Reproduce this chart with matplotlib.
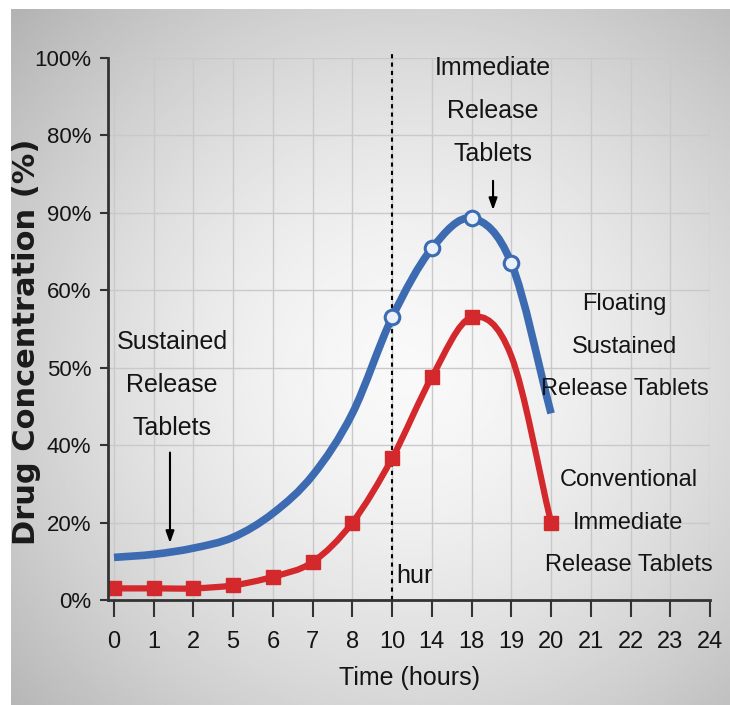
import numpy as np
import matplotlib
matplotlib.use("Agg")
import matplotlib.pyplot as plt
from matplotlib.path import Path
from matplotlib.patches import PathPatch

# hour labels sit on evenly spaced slots along the x axis
hours = ["0", "1", "2", "5", "6", "7", "8", "10", "14", "18", "19", "20",
         "21", "22", "23", "24"]
# y tick labels, one per grid step (bottom to top)
conc_labels = ["0%", "20%", "40%", "50%", "60%", "90%", "80%", "100%"]

# concentration curves, in grid steps, for the slots 0..11 (0 h .. 20 h)
floating_sr = [0.55, 0.59, 0.67, 0.81, 1.12, 1.61, 2.41, 3.65, 4.54, 4.93, 4.35, 2.41]
conventional_ir = [0.15, 0.15, 0.15, 0.19, 0.30, 0.49, 1.00, 1.83, 2.88, 3.65, 3.15, 1.00]
# which slots get a marker
floating_marks = [7, 8, 9, 10]
conventional_marks = [0, 1, 2, 3, 4, 5, 6, 7, 8, 9, 11]

BLUE = "#3c6bb2"
RED = "#d3282c"
INK = "#141414"

plt.rcParams["font.family"] = ["Liberation Sans", "DejaVu Sans"]


def smooth_path(xs, ys):
    """Cubic Bezier path through the points (Catmull-Rom tangents)."""
    p = np.column_stack([xs, ys]).astype(float)
    n = len(p)
    tang = np.zeros_like(p)
    tang[1:-1] = (p[2:] - p[:-2]) / 2
    tang[0] = p[1] - p[0]
    tang[-1] = p[-1] - p[-2]
    verts = [tuple(p[0])]
    codes = [Path.MOVETO]
    for i in range(n - 1):
        verts += [tuple(p[i] + tang[i] / 3), tuple(p[i + 1] - tang[i + 1] / 3), tuple(p[i + 1])]
        codes += [Path.CURVE4] * 3
    return Path(verts, codes)


fig = plt.figure(figsize=(7.3, 7.05), dpi=100, facecolor="white")

# soft grey vignette behind everything
bg = fig.add_axes([11 / 730, 0, 719 / 730, 696 / 705], zorder=0)
gx, gy = np.meshgrid(np.linspace(0, 1, 300), np.linspace(0, 1, 300))
r = np.sqrt(((gx - 0.55) / 0.62) ** 2 + ((gy - 0.52) / 0.62) ** 2)
shade = np.clip(0.975 - 0.2 * r ** 1.6, 0, 1)
bg.imshow(shade, cmap="gray", vmin=0, vmax=1, aspect="auto", extent=[0, 1, 0, 1])
bg.axis("off")

ax = fig.add_axes([108 / 730, 105 / 705, 602 / 730, 542 / 705], zorder=1)
ax.set_facecolor("none")
ax.set_xlim(-0.15, len(hours) - 1)
ax.set_ylim(0, len(conc_labels) - 1)

ax.set_xticks(range(len(hours)))
ax.set_xticklabels(hours)
ax.set_yticks(range(len(conc_labels)))
ax.set_yticklabels(conc_labels)
ax.tick_params(axis="x", direction="out", length=12, width=1.5, color="#333333",
               labelsize=17, pad=10, labelcolor=INK)
ax.tick_params(axis="y", direction="out", length=6, width=1.5, color="#333333",
               labelsize=16, pad=6, labelcolor=INK)
ax.grid(True, color="#c9c9c9", lw=1)
ax.set_axisbelow(True)
for side in ("top", "right"):
    ax.spines[side].set_visible(False)
for side in ("left", "bottom"):
    ax.spines[side].set_color("#333333")
    ax.spines[side].set_linewidth(2)
    ax.spines[side].set_zorder(5)

slots = np.arange(len(floating_sr))

# curves
ax.add_patch(PathPatch(smooth_path(slots, floating_sr), fill=False, edgecolor=BLUE,
                       lw=5.5, capstyle="butt", zorder=3))
ax.add_patch(PathPatch(smooth_path(slots, conventional_ir), fill=False, edgecolor=RED,
                       lw=4.5, capstyle="butt", zorder=3))

ax.plot(slots[floating_marks], np.array(floating_sr)[floating_marks], ls="none",
        marker="o", ms=10.5, mfc="#eaf1fb", mec=BLUE, mew=2.2, zorder=4)
ax.plot(slots[conventional_marks], np.array(conventional_ir)[conventional_marks], ls="none",
        marker="s", ms=10, mfc=RED, mec=RED, zorder=4)

# dotted marker line at 10 h
ax.axvline(7, ymin=0, ymax=1.01, color="black", ls=(0, (2, 2)), lw=1.5,
           clip_on=False, zorder=2)
ax.text(7.1, 0.31, "hur", fontsize=18, ha="left", va="center", color=INK)

# annotations
txt = dict(fontsize=18, ha="center", va="center", linespacing=2.0, color=INK)
arrow = dict(arrowstyle="-|>,head_length=0.7,head_width=0.25", color="black", lw=1.5)

ax.text(1.46, 2.78, "Sustained\nRelease\nTablets", **txt)
ax.annotate("", xy=(1.41, 0.70), xytext=(1.41, 1.94), arrowprops=arrow)

ax.text(9.54, 6.32, "Immediate\nRelease\nTablets", **txt)
ax.annotate("", xy=(9.54, 5.0), xytext=(9.54, 5.45), arrowprops=arrow)

side_txt = dict(txt, fontsize=17, linespacing=2.2)
ax.text(12.85, 3.27, "Floating\nSustained\nRelease Tablets", **side_txt)
ax.text(12.95, 1.0, "Conventional\nImmediate\nRelease Tablets", **side_txt)

ax.set_xlabel("Time (hours)", fontsize=18, labelpad=10, color=INK)
fig.text(27 / 730, 1 - 342 / 705, "Drug Concentration (%)", rotation=90,
         fontsize=22, fontweight="bold", family="DejaVu Sans",
         ha="center", va="center", color="#1a1a1a")

fig.savefig("out.png", dpi=100, facecolor=fig.get_facecolor())
